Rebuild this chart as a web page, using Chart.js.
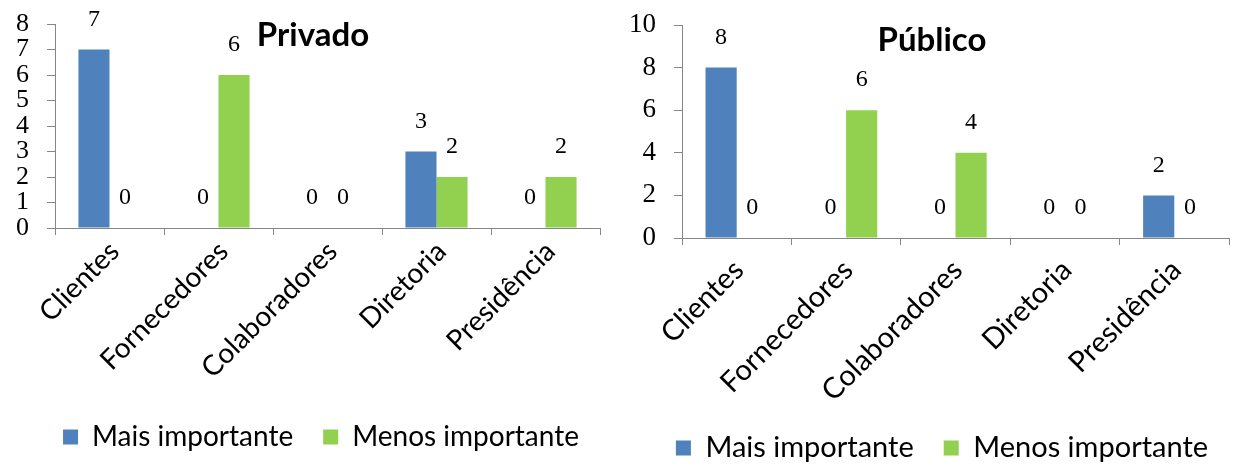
<!DOCTYPE html>
<html><head><meta charset="utf-8">
<script src="https://cdn.jsdelivr.net/npm/chart.js@4.4.0/dist/chart.umd.min.js"></script>
<style>
html,body{margin:0;padding:0;background:#fff;width:1234px;height:467px;overflow:hidden}
canvas{position:absolute;top:0}
#c1{left:0}
#c2{left:610px}
</style></head><body>
<canvas id="c1" width="610" height="467"></canvas>
<canvas id="c2" width="624" height="467"></canvas>
<script>
// ---- data ----
const categories = ['Clientes', 'Fornecedores', 'Colaboradores', 'Diretoria', 'Presidência'];
const seriesNames = ['Mais importante', 'Menos importante'];
const privadoMais = [7, 0, 0, 3, 0];
const privadoMenos = [0, 6, 0, 2, 2];
const publicoMais = [8, 0, 0, 0, 2];
const publicoMenos = [0, 6, 4, 0, 0];
const privadoYTicks = [0, 1, 2, 3, 4, 5, 6, 7, 8];
const publicoYTicks = [0, 2, 4, 6, 8, 10];
const chartTitles = ['Privado', 'Público'];

// ---- styles ----
const BLUE = '#4F81BD', GREEN = '#92D050', AXIS = '#868686';
const SANS = 'Lato, "Open Sans", sans-serif';
const SERIF = '"Liberation Serif", "DejaVu Serif", serif';

const valueLabels = {
  id: 'valueLabels',
  afterDatasetsDraw(chart, args, opts) {
    const ctx = chart.ctx;
    ctx.save();
    ctx.font = opts.font;
    ctx.fillStyle = '#000';
    ctx.textAlign = 'center';
    ctx.textBaseline = 'middle';
    chart.data.datasets.forEach((ds, i) => {
      chart.getDatasetMeta(i).data.forEach((el, j) => {
        ctx.fillText(String(ds.data[j]), el.x, el.y - opts.offset);
      });
    });
    ctx.restore();
  }
};
const innerTitle = {
  id: 'innerTitle',
  afterDraw(chart, args, opts) {
    const ctx = chart.ctx;
    ctx.save();
    ctx.font = opts.font;
    ctx.fillStyle = '#000';
    ctx.textAlign = 'center';
    ctx.textBaseline = 'middle';
    ctx.fillText(opts.text, opts.x, opts.y);
    ctx.restore();
  }
};
// place the legend row at a given centre point
const legendPlace = {
  id: 'legendPlace',
  afterLayout(chart, args, opts) {
    const lg = chart.legend;
    const lo = chart.options.plugins.legend.labels;
    const itemH = Math.max(lo.font.size, lo.boxHeight);
    const dx = opts.cx - (lg.left + lg.right) / 2;
    const dy = opts.cy - (lg.top + lo.padding + itemH / 2);
    lg.left += dx; lg.right += dx;
    lg.top += dy; lg.bottom += dy;
  }
};

function makeChart(id, title, mais, menos, yTicks, cfg) {
  const yMax = yTicks[yTicks.length - 1];
  const step = yTicks[1] - yTicks[0];
  return new Chart(document.getElementById(id), {
    type: 'bar',
    data: {
      labels: categories,
      datasets: [
        { label: seriesNames[0], data: mais, backgroundColor: BLUE },
        { label: seriesNames[1], data: menos, backgroundColor: GREEN }
      ]
    },
    options: {
      responsive: false,
      animation: false,
      events: [],
      categoryPercentage: 0.57,
      barPercentage: 1.0,
      layout: { padding: { left: 0, right: cfg.padR, top: cfg.padT, bottom: 0 } },
      plugins: {
        legend: {
          position: 'bottom',
          labels: {
            font: { family: SANS, size: cfg.legendSize },
            color: '#000',
            boxWidth: 15, boxHeight: 15,
            padding: 30
          }
        },
        tooltip: { enabled: false },
        title: { display: false },
        valueLabels: { font: cfg.valueFont, offset: 30 },
        innerTitle: { text: title, x: cfg.titleX, y: cfg.titleY, font: 'bold ' + cfg.titleSize + 'px ' + SANS },
        legendPlace: { cx: cfg.legendCx, cy: cfg.legendCy }
      },
      scales: {
        x: {
          grid: { drawOnChartArea: false, drawTicks: true, tickLength: 7, color: AXIS, offset: true },
          border: { color: AXIS },
          ticks: {
            color: '#000', font: { family: SANS, size: cfg.xSize },
            minRotation: 45, maxRotation: 45, autoSkip: false,
            padding: cfg.xPad, labelOffset: cfg.xShift
          },
          afterFit(scale) {
            scale.height = (467 - scale.chart.legend.height) - cfg.axisY;
            scale.paddingLeft = 0; scale.paddingRight = 0;
          }
        },
        y: {
          min: 0, max: yMax,
          grid: { drawOnChartArea: false, drawTicks: true, tickLength: 8, color: AXIS },
          border: { color: AXIS },
          ticks: {
            stepSize: step, autoSkip: false, color: '#000', font: { family: SERIF, size: cfg.ySize },
            padding: cfg.yPad
          },
          afterFit(scale) {
            scale.width = cfg.yWidth;
            scale.paddingTop = 0; scale.paddingBottom = 0;
          }
        }
      }
    },
    plugins: [valueLabels, innerTitle, legendPlace]
  });
}

makeChart('c1', chartTitles[0], privadoMais, privadoMenos, privadoYTicks, {
  padR: 10, padT: 24, axisY: 228, yWidth: 55, yPad: 18,
  legendSize: 28, legendCx: 321, legendCy: 437, xSize: 28, ySize: 26, xPad: 0, xShift: 5,
  valueFont: '24px ' + SERIF, titleX: 313, titleY: 35, titleSize: 33
});
makeChart('c2', chartTitles[1], publicoMais, publicoMenos, publicoYTicks, {
  padR: 5, padT: 25, axisY: 238, yWidth: 72, yPad: 18,
  legendSize: 29, legendCx: 332, legendCy: 448, xSize: 29, ySize: 27, xPad: 8, xShift: 2,
  valueFont: '24px ' + SERIF, titleX: 322, titleY: 40, titleSize: 33
});
</script>
</body></html>
